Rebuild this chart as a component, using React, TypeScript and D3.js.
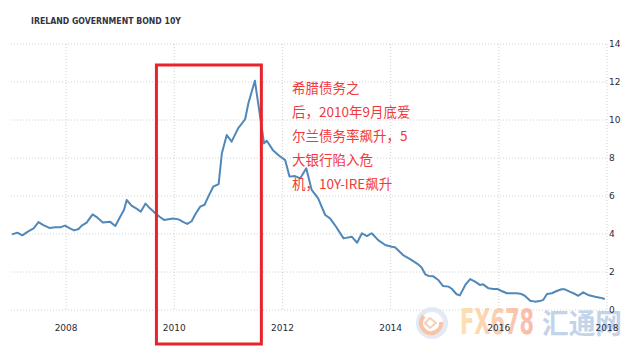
import React from "react";
import * as d3 from "d3";

const years: number[] = [
  2007.0, 2007.1, 2007.19, 2007.3, 2007.4, 2007.49, 2007.58, 2007.69, 2007.8, 2007.89, 2007.98,
  2008.07, 2008.15, 2008.23, 2008.29, 2008.38, 2008.49, 2008.58, 2008.68, 2008.81, 2008.91,
  2009.0, 2009.07, 2009.12, 2009.21, 2009.31, 2009.38, 2009.47, 2009.55, 2009.65, 2009.74, 2009.81, 2009.98,
  2010.08, 2010.17, 2010.24, 2010.32, 2010.4, 2010.48, 2010.56, 2010.64, 2010.72, 2010.82, 2010.88, 2010.97,
  2011.06, 2011.18, 2011.31, 2011.37, 2011.49, 2011.66, 2011.71, 2011.83, 2011.94,
  2012.05, 2012.13, 2012.23, 2012.33, 2012.44, 2012.54, 2012.66, 2012.79, 2012.88, 2012.97,
  2013.13, 2013.28, 2013.38, 2013.47, 2013.56, 2013.65, 2013.77, 2013.9,
  2014.02, 2014.08, 2014.23, 2014.36, 2014.51, 2014.57, 2014.64, 2014.7, 2014.79, 2014.88, 2014.97,
  2015.07, 2015.13, 2015.22, 2015.28, 2015.38, 2015.47, 2015.56, 2015.65, 2015.71, 2015.81, 2015.9, 2015.97,
  2016.05, 2016.15, 2016.33, 2016.42, 2016.48, 2016.58, 2016.67, 2016.76, 2016.82, 2016.89, 2016.98,
  2017.07, 2017.16, 2017.22, 2017.32, 2017.41, 2017.47, 2017.56, 2017.65, 2017.78, 2017.87, 2017.96,
];

const yields: number[] = [
  3.98, 4.07, 3.93, 4.14, 4.3, 4.63, 4.47, 4.32, 4.35, 4.35, 4.44,
  4.3, 4.19, 4.26, 4.44, 4.6, 5.03, 4.86, 4.61, 4.65, 4.42,
  4.91, 5.26, 5.79, 5.49, 5.32, 5.17, 5.6, 5.35, 5.09, 4.88, 4.74, 4.81,
  4.77, 4.63, 4.53, 4.67, 5.09, 5.44, 5.54, 6.03, 6.49, 6.63, 8.25, 9.21,
  8.86, 9.56, 10.04, 10.88, 12.07, 8.77, 8.91, 8.39, 8.12,
  7.89, 7.02, 7.05, 6.93, 7.46, 6.32, 5.88, 5.0, 4.82, 4.47,
  3.77, 3.86, 3.54, 4.04, 3.89, 4.04, 3.68, 3.42,
  3.33, 3.3, 2.89, 2.68, 2.4, 2.25, 1.88, 1.79, 1.77, 1.58, 1.26,
  1.23, 1.12, 0.83, 0.77, 1.32, 1.63, 1.49, 1.32, 1.35, 1.14, 1.11, 1.11,
  1.0, 0.88, 0.88, 0.84, 0.75, 0.49, 0.44, 0.47, 0.53, 0.84, 0.88,
  1.0, 1.09, 1.09, 0.95, 0.84, 0.75, 0.93, 0.79, 0.7, 0.65, 0.58,
];

const xTicks: number[] = [2008, 2010, 2012, 2014, 2016, 2018];
const yTicks: number[] = [0, 2, 4, 6, 8, 10, 12, 14];

const title = "IRELAND GOVERNMENT BOND 10Y";
const noteLines: string[] = [
  "希腊债务之",
  "后，2010年9月底爱",
  "尔兰债务率飙升，5",
  "大银行陷入危",
  "机，10Y-IRE飙升",
];
const highlight: [number, number] = [2009.67, 2011.61];

export default function App() {
  const W = 640;
  const H = 357;
  const x = d3.scaleLinear().domain([2007, 2018]).range([12, 607]);
  const y = d3.scaleLinear().domain([0, 14]).range([310, 44]);
  const pts = years.map((yr, i) => [yr, yields[i]] as [number, number]);
  const line = d3
    .line<[number, number]>()
    .x((d) => x(d[0]))
    .y((d) => y(d[1]));

  const left = 11;
  const right = 607;

  return (
    <svg
      width={W}
      height={H}
      style={{ position: "absolute", left: 0, top: 0, background: "#fff" }}
    >
      <defs>
        <linearGradient id="fxg" x1="0" x2="1" y1="0" y2="0">
          <stop offset="0" stopColor="#fbd99a" />
          <stop offset="1" stopColor="#f6a590" />
        </linearGradient>
      </defs>
      <rect width={W} height={H} fill="#fff" />
      <text
        x={31}
        y={24}
        fontFamily="'DejaVu Sans', sans-serif"
        fontWeight="bold"
        fontSize={9}
        fill="#333344"
        textLength={150}
        lengthAdjust="spacingAndGlyphs"
      >
        {title}
      </text>

      {yTicks.map((t) => (
        <line
          key={"h" + t}
          x1={left}
          x2={right}
          y1={y(t)}
          y2={y(t)}
          stroke="#d0d0d0"
          strokeWidth={1}
          strokeDasharray="1,2"
        />
      ))}
      {xTicks.map((t) => (
        <line
          key={"v" + t}
          x1={x(t)}
          x2={x(t)}
          y1={y(14)}
          y2={y(0)}
          stroke="#d0d0d0"
          strokeWidth={1}
          strokeDasharray="1,2"
        />
      ))}

      <g opacity={0.75}>
        <circle cx={432} cy={323} r={16} fill="#dbe3f0" />
        <circle cx={432} cy={323} r={11} fill="#fff" />
        <path
          d="M 424 316 A 10 10 0 1 0 441 322"
          fill="none"
          stroke="#f6b08a"
          strokeWidth={4}
        />
        <path d="M 430 318 L 436 323 L 430 328 L 425 323 Z" fill="none" stroke="#f2c0a0" strokeWidth={2} />
        <text
          x={460}
          y={334}
          fontFamily="'DejaVu Sans', sans-serif"
          fontWeight="bold"
          fontSize={35}
          fill="url(#fxg)"
          textLength={74}
          lengthAdjust="spacingAndGlyphs"
        >
          FX678
        </text>
        <text
          x={542}
          y={334}
          fontFamily="'Noto Sans CJK SC', sans-serif"
          fontWeight="bold"
          fontSize={28}
          fill="#b0c6e3"
          textLength={80}
          lengthAdjust="spacingAndGlyphs"
        >
          汇通网
        </text>
      </g>

      {yTicks.map((t) => (
        <text
          key={"yl" + t}
          x={609}
          y={y(t)}
          dy="0.35em"
          fontFamily="'DejaVu Sans', sans-serif"
          fontSize={9}
          fill="#2a2a3a"
        >
          {t}
        </text>
      ))}
      {xTicks.map((t) => (
        <text
          key={"xl" + t}
          x={x(t)}
          y={328}
          dy="0.35em"
          textAnchor="middle"
          fontFamily="'DejaVu Sans', sans-serif"
          fontSize={9}
          fill="#2a2a3a"
        >
          {t}
        </text>
      ))}

      <path
        d={line(pts) || ""}
        fill="none"
        stroke="#4f88b9"
        strokeWidth={2}
        strokeLinejoin="round"
      />

      <rect
        x={x(highlight[0])}
        y={65}
        width={x(highlight[1]) - x(highlight[0])}
        height={279}
        fill="none"
        stroke="#e8232b"
        strokeWidth={3}
      />

      {noteLines.map((s, i) => (
        <text
          key={"n" + i}
          x={292}
          y={93 + i * 24}
          fontFamily="'Noto Sans CJK SC', sans-serif"
          fontSize={13.5}
          fill="#f2393a"
        >
          {s}
        </text>
      ))}
    </svg>
  );
}
